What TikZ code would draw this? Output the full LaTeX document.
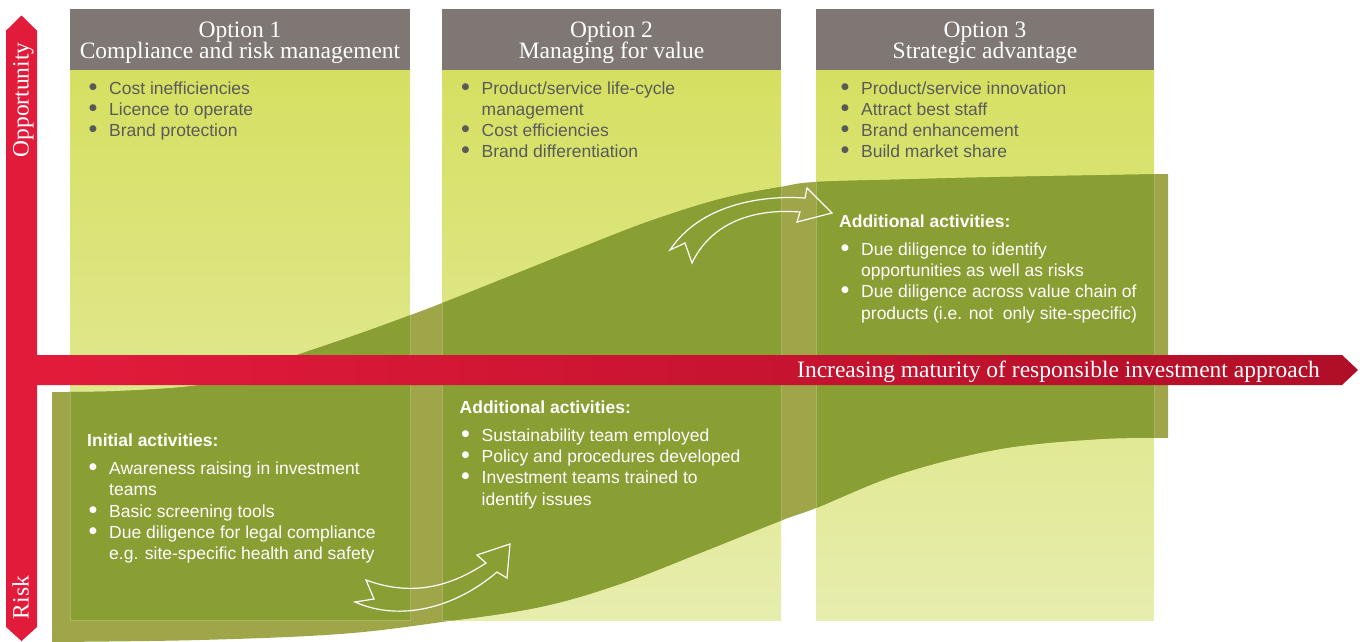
\documentclass[tikz,border=0pt]{standalone}
\usepackage{fontspec}
\setmainfont{Liberation Serif}
\newfontfamily\bodyfont{Liberation Sans}
\newfontfamily\dotfont{DejaVu Sans}

\definecolor{colTop}{RGB}{213,224,97}
\definecolor{colBot}{RGB}{231,237,173}
\definecolor{headGray}{RGB}{126,119,115}
\definecolor{bandDark}{RGB}{137,158,51}
\definecolor{bandLight}{RGB}{158,166,73}
\definecolor{bandEdge}{RGB}{170,181,100}
\definecolor{redMain}{RGB}{227,27,59}
\definecolor{redDeep}{RGB}{176,14,40}
\definecolor{bodyGray}{RGB}{90,90,90}

% bullet item with hanging indent; lines inside an item are broken with \newline
\newcommand\bul[1]{\par\noindent\hangindent=22pt\hangafter=1%
  \makebox[22pt][l]{\hspace{2pt}\raisebox{5pt}{\dotfont\fontsize{9}{9}\selectfont ●}}#1}
\newcommand\lst[1]{\parbox[t]{330pt}{#1}}

\begin{document}
\begin{tikzpicture}[x=1pt,y=-1pt,
  column/.style={top color=colTop,bottom color=colBot},
  headbox/.style={fill=headGray},
  headtext/.style={anchor=base,inner sep=0pt,text=white,
    font=\fontsize{23.5}{21.6}\selectfont},
  list/.style={anchor=base west,inner sep=0pt,
    font=\bodyfont\fontsize{17.5}{21.3}\selectfont},
  darklist/.style={list,text=bodyGray},
  lightlist/.style={list,text=white},
  axistext/.style={inner sep=0pt,text=white,
    font=\fontsize{23.5}{24}\selectfont},
  curvearrow/.style={draw=white,line width=1.2pt,line join=miter}]
\useasboundingbox (0,0) rectangle (1365,641);

% three option columns
\shade[column] (70,70) rectangle (410,620);
\shade[column] (442,70) rectangle (781,620);
\shade[column] (816,70) rectangle (1154,620);
\fill[headbox] (70,9) rectangle (410,70);
\fill[headbox] (442,9) rectangle (781,70);
\fill[headbox] (816,9) rectangle (1154,70);

% rising maturity band
\fill[bandLight] (52,642)
  -- plot[smooth,tension=0.6] coordinates {(52,392) (120,391) (200,385) (250,372)
     (300,354) (350,337) (400,319) (450,300) (520,272) (580,248) (650,221)
     (720,199) (780,187) (815,182) (900,179.5) (1000,177) (1168,174)}
  -- plot[smooth,tension=0.6] coordinates {(1168,438) (1100,439) (1000,449)
     (900,474) (816,508) (780,521) (700,553) (620,584) (540,607) (442,622)
     (340,634) (200,640) (52,642)} -- cycle;
\begin{scope}
\clip (52,642)
  -- plot[smooth,tension=0.6] coordinates {(52,392) (120,391) (200,385) (250,372)
     (300,354) (350,337) (400,319) (450,300) (520,272) (580,248) (650,221)
     (720,199) (780,187) (815,182) (900,179.5) (1000,177) (1168,174)}
  -- plot[smooth,tension=0.6] coordinates {(1168,438) (1100,439) (1000,449)
     (900,474) (816,508) (780,521) (700,553) (620,584) (540,607) (442,622)
     (340,634) (200,640) (52,642)} -- cycle;
\fill[bandDark] (70,70) rectangle (410,620);
\fill[bandDark] (442,70) rectangle (781,620);
\fill[bandDark] (816,70) rectangle (1154,620);
\draw[bandEdge,line width=0.8pt] (70,70) rectangle (410,620);
\draw[bandEdge,line width=0.8pt] (442,70) rectangle (781,620);
\draw[bandEdge,line width=0.8pt] (816,70) rectangle (1154,620);
\end{scope}

% risk / opportunity axis and maturity axis
\fill[redMain] (6,30.7) -- (21.5,15.5) -- (37,30.7) -- (37,627) -- (21.5,641)
  -- (6,627) -- cycle;
\shade[left color=redMain,right color=redDeep] (30,355) -- (1342,355)
  -- (1358,370) -- (1342,385) -- (30,385) -- cycle;

\node[axistext,rotate=90,anchor=base] (opp) at (28.5,100) {Opportunity};
\node[axistext,rotate=90,anchor=base] (risk) at (28.5,597.5) {Risk};
\node[axistext,anchor=base west] (mat) at (797,377)
  {Increasing maturity of responsible investment approach};

% headers
\node[headtext] (h1a) at (240,37) {Option 1};
\node[headtext] (h1b) at (240,58.5) {Compliance and risk management};
\node[headtext] (h2a) at (611.5,37) {Option 2};
\node[headtext] (h2b) at (611.5,58.5) {Managing for value};
\node[headtext] (h3a) at (985,37) {Option 3};
\node[headtext] (h3b) at (985,58.5) {Strategic advantage};

% opportunity lists
\node[darklist] (o1) at (87,94) {\lst{%
  \bul{Cost inefficiencies}\bul{Licence to operate}\bul{Brand protection}}};
\node[darklist] (o2) at (459.5,94) {\lst{%
  \bul{Product/service life-cycle\newline management}\bul{Cost efficiencies}%
  \bul{Brand differentiation}}};
\node[darklist] (o3) at (839,94) {\lst{%
  \bul{Product/service innovation}\bul{Attract best staff}%
  \bul{Brand enhancement}\bul{Build market share}}};

% activity lists
\node[lightlist] (a1) at (87,446.7) {\lst{{\bfseries Initial activities:}\par
  \vspace{6.5pt}%
  \bul{Awareness raising in investment\newline teams}\bul{Basic screening tools}%
  \bul{Due diligence for legal compliance\newline e.g. site-specific health and safety}}};
\node[lightlist] (a2) at (459.5,413.3) {\lst{{\bfseries Additional activities:}\par
  \vspace{6.5pt}%
  \bul{Sustainability team employed}\bul{Policy and procedures developed}%
  \bul{Investment teams trained to\newline identify issues}}};
\node[lightlist] (a3) at (839,227.5) {\lst{{\bfseries Additional activities:}\par
  \vspace{6.5pt}%
  \bul{Due diligence to identify\newline opportunities as well as risks}%
  \bul{Due diligence across value chain of\newline products (i.e. not\ \ only site-specific)}}};

% curved progress arrows
\draw[curvearrow] (366,580) .. controls (420,600) and (460,580) .. (486,563)
  -- (477,555) -- (510,544) -- (507,578) -- (497,572)
  .. controls (455,608) and (400,622) .. (355,602) -- (374,599) -- cycle;
\draw[curvearrow] (670,250) .. controls (700,205) and (760,195) .. (805,198)
  -- (807,188) -- (832,213) -- (797,222) -- (800,212)
  .. controls (750,208) and (710,225) .. (692,263) -- (685,243) -- cycle;
\end{tikzpicture}
\end{document}
